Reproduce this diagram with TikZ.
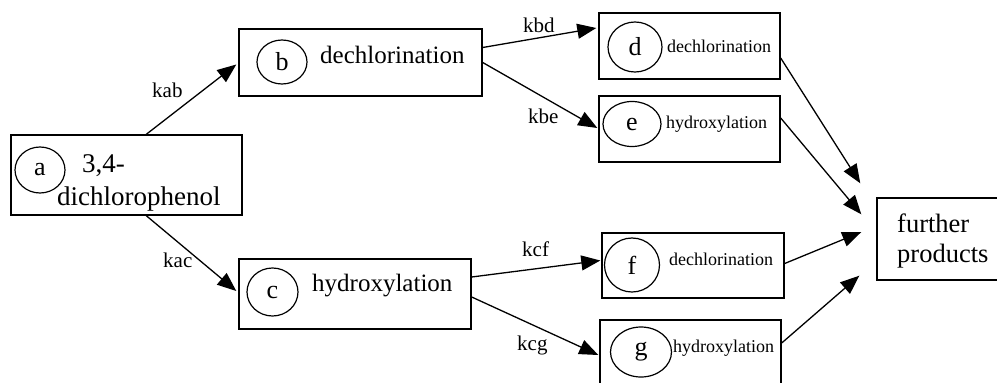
\documentclass[tikz,border=0pt]{standalone}
\usepackage{fontspec}
\setmainfont{Liberation Serif}
\usetikzlibrary{shapes.geometric,arrows.meta}
\begin{document}
\begin{tikzpicture}[x=1pt,y=-1pt,
  box/.style={draw, line width=1.4pt, rectangle, inner sep=0pt},
  circ/.style={draw, ellipse, line width=1.2pt, inner sep=0pt, font=\fontsize{26}{30}\selectfont},
  bigtxt/.style={font=\fontsize{25}{30}\selectfont, inner sep=0pt, anchor=base west},
  atxt/.style={font=\fontsize{27}{31}\selectfont, inner sep=0pt, anchor=base west},
  smalltxt/.style={font=\fontsize{18}{22}\selectfont, inner sep=0pt, anchor=base west},
  lab/.style={font=\fontsize{21}{24}\selectfont, inner sep=0pt, anchor=base west},
  arr/.style={-{Triangle[length=19pt,width=15pt]}, line width=1.3pt}]
\useasboundingbox (0,0) rectangle (997,383);
\clip (0,0) rectangle (997,383);

% boxes
\node[box, minimum width=231pt, minimum height=80pt] (a) at (126.5,175) {};
\node[box, minimum width=243pt, minimum height=67pt] (b) at (360.5,62.5) {};
\node[box, minimum width=232pt, minimum height=70pt] (c) at (355,294) {};
\node[box, minimum width=181pt, minimum height=66pt] (d) at (689.5,46) {};
\node[box, minimum width=181pt, minimum height=66pt] (e) at (689.5,129) {};
\node[box, minimum width=182pt, minimum height=65pt] (f) at (693,265.5) {};
\node[box, minimum width=181pt, minimum height=66pt] (g) at (690.5,353) {};
\node[box, minimum width=125pt, minimum height=82pt] (fp) at (939.5,239) {};

% circles
\node[circ, minimum width=50pt, minimum height=46pt] (ca) at (40,170) {a};
\node[circ, minimum width=50pt, minimum height=44pt] (cb) at (282,62) {b};
\node[circ, minimum width=51pt, minimum height=48pt] (cc) at (272.5,292) {c};
\node[circ, minimum width=54pt, minimum height=50pt] (cd) at (635,47) {d};
\node[circ, minimum width=58pt, minimum height=45pt] (ce) at (632,124) {e};
\node[circ, minimum width=55pt, minimum height=54pt] (cf) at (632,265) {f};
\node[circ, minimum width=61pt, minimum height=50pt] (cg) at (641,352) {g};

% texts
\node[atxt] (ta1) at (82,172) {3,4-};
\node[atxt] (ta2) at (57,205) {dichlorophenol};
\node[bigtxt] (tb) at (320,63) {dechlorination};
\node[bigtxt] (tc) at (312,291) {hydroxylation};
\node[smalltxt] (td) at (667,52) {dechlorination};
\node[smalltxt] (te) at (666,128) {hydroxylation};
\node[smalltxt] (tf) at (669,265) {dechlorination};
\node[smalltxt] (tg) at (673,352) {hydroxylation};
\node[font=\fontsize{26.5}{30}\selectfont, inner sep=0pt, anchor=base west] (tfp1) at (897,232) {further};
\node[font=\fontsize{26.5}{30}\selectfont, inner sep=0pt, anchor=base west] (tfp2) at (897,262) {products};

% rate labels
\node[lab] (kab) at (152,97) {kab};
\node[lab] (kac) at (163,267) {kac};
\node[lab] (kbd) at (523,32) {kbd};
\node[lab] (kbe) at (528,123) {kbe};
\node[lab] (kcf) at (522,256) {kcf};
\node[lab] (kcg) at (517,350) {kcg};

% arrows
\draw[arr] ([xshift=136pt]a.north west) -- ([xshift=-2pt,yshift=-2pt]b.west);
\draw[arr] ([xshift=136pt]a.south west) -- ([xshift=-2pt,yshift=3pt]c.west);
\draw[arr] ([yshift=15pt]b.east) -- ([xshift=-2pt,yshift=18pt]d.west);
\draw[arr] (b.east) -- ([xshift=-1pt,yshift=1pt]e.west);
\draw[arr] ([yshift=17pt]c.east) -- ([xshift=-1pt,yshift=5pt]f.west);
\draw[arr] ([yshift=-3pt]c.east) -- ([xshift=-1pt,yshift=-2pt]g.west);
\draw[arr] ([yshift=-12pt]d.east) -- ([xshift=-16pt,yshift=14pt]fp.north west);
\draw[arr] ([yshift=11pt]e.east) -- ([xshift=-15pt,yshift=-17pt]fp.north west);
\draw[arr] ([yshift=2pt]f.east) -- ([xshift=-15pt,yshift=7pt]fp.west);
\draw[arr] ([yshift=10pt]g.east) -- ([xshift=-17pt,yshift=5pt]fp.south west);
\end{tikzpicture}
\end{document}
